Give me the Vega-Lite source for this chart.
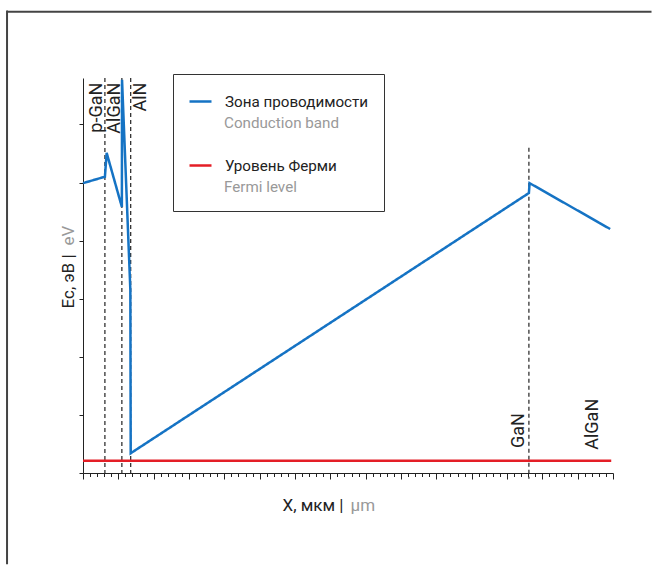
{
  "$schema": "https://vega.github.io/schema/vega-lite/v6.json",
  "width": 530,
  "height": 395,
  "autosize": {"type": "none"},
  "padding": {"left": 83, "top": 78, "right": 39, "bottom": 92},
  "background": "white",
  "config": {"font": "Roboto", "view": {"stroke": null}},
  "datasets": {
    "bands": [
      {"i": 0, "x": 0, "y": 4.99, "ru": "Зона проводимости", "en": "Conduction band"},
      {"i": 1, "x": 0.62, "y": 5.10, "ru": "Зона проводимости", "en": "Conduction band"},
      {"i": 2, "x": 0.67, "y": 5.51, "ru": "Зона проводимости", "en": "Conduction band"},
      {"i": 3, "x": 1.10, "y": 4.58, "ru": "Зона проводимости", "en": "Conduction band"},
      {"i": 4, "x": 1.105, "y": 6.77, "ru": "Зона проводимости", "en": "Conduction band"},
      {"i": 5, "x": 1.34, "y": 3.15, "ru": "Зона проводимости", "en": "Conduction band"},
      {"i": 6, "x": 1.35, "y": 0.34, "ru": "Зона проводимости", "en": "Conduction band"},
      {"i": 7, "x": 12.62, "y": 4.82, "ru": "Зона проводимости", "en": "Conduction band"},
      {"i": 8, "x": 12.64, "y": 4.99, "ru": "Зона проводимости", "en": "Conduction band"},
      {"i": 9, "x": 14.92, "y": 4.20, "ru": "Зона проводимости", "en": "Conduction band"},
      {"i": 0, "x": 0, "y": 0.21, "ru": "Уровень Ферми", "en": "Fermi level"},
      {"i": 1, "x": 14.95, "y": 0.21, "ru": "Уровень Ферми", "en": "Fermi level"}
    ],
    "bounds": [
      {"x": 0.62, "top": 6.8, "bottom": 0},
      {"x": 1.10, "top": 6.8, "bottom": 0},
      {"x": 1.35, "top": 6.8, "bottom": 0},
      {"x": 12.62, "top": 5.6, "bottom": -0.1}
    ],
    "labels": [
      {"x": 0.54, "y": 6.72, "label": "p-GaN", "pos": "top"},
      {"x": 1.05, "y": 6.72, "label": "AlGaN", "pos": "top"},
      {"x": 1.79, "y": 6.72, "label": "AlN", "pos": "top"},
      {"x": 12.47, "y": 0.43, "label": "GaN", "pos": "bottom"},
      {"x": 14.58, "y": 0.40, "label": "AlGaN", "pos": "bottom"}
    ]
  },
  "layer": [
    {
      "data": {"values": [{"frame": "top"}]},
      "mark": {"type": "rule", "stroke": "#444", "strokeWidth": 2, "clip": false},
      "encoding": {
        "x": {"datum": -2.15, "type": "quantitative", "scale": {"domain": [0, 15], "nice": false, "zero": false}, "axis": null},
        "x2": {"datum": 16.09},
        "y": {"datum": 7.94, "type": "quantitative", "scale": {"domain": [0, 6.8], "nice": false, "zero": false}, "axis": null}
      }
    },
    {
      "data": {"values": [{"frame": "left"}]},
      "mark": {"type": "rule", "stroke": "#444", "strokeWidth": 2, "clip": false},
      "encoding": {
        "x": {"datum": -2.15, "type": "quantitative", "scale": {"domain": [0, 15], "nice": false, "zero": false}, "axis": null},
        "y": {"datum": 7.96, "type": "quantitative", "scale": {"domain": [0, 6.8], "nice": false, "zero": false}, "axis": null},
        "y2": {"datum": -1.57}
      }
    },
    {
      "data": {"name": "bounds"},
      "mark": {"type": "rule", "strokeDash": [4, 3], "color": "#222", "strokeWidth": 1.2, "clip": false},
      "encoding": {
        "x": {"field": "x", "type": "quantitative", "scale": {"domain": [0, 15], "nice": false, "zero": false},
          "axis": {"orient": "bottom", "title": "µm", "titleColor": "#999", "ticks": false, "labels": false, "domain": false, "grid": false,
            "titleX": 267, "titleY": 37, "titleAlign": "left", "titleBaseline": "alphabetic", "titleFontWeight": "normal", "titleFontSize": 17, "titleFont": "Roboto"}},
        "y": {"field": "top", "type": "quantitative", "scale": {"domain": [0, 6.8], "nice": false, "zero": false},
          "axis": {"orient": "left", "title": "eV", "titleColor": "#999", "ticks": false, "labels": false, "domain": false, "grid": false,
            "titleX": -10, "titleY": 167, "titleAlign": "left", "titleAngle": 270, "titleBaseline": "alphabetic", "titleFontWeight": "normal", "titleFontSize": 17, "titleFont": "Roboto"}},
        "y2": {"field": "bottom"}
      }
    },
    {
      "data": {"name": "bands"},
      "mark": {"type": "line", "strokeWidth": 2.5, "clip": false},
      "encoding": {
        "x": {"field": "x", "type": "quantitative", "scale": {"domain": [0, 15], "nice": false, "zero": false},
          "axis": {"orient": "bottom", "title": "X, мкм |", "titleColor": "#222", "labels": false, "grid": false,
            "values": [0,0.2,0.4,0.6,0.8,1,1.2,1.4,1.6,1.8,2,2.2,2.4,2.6,2.8,3,3.2,3.4,3.6,3.8,4,4.2,4.4,4.6,4.8,5,5.2,5.4,5.6,5.8,6,6.2,6.4,6.6,6.8,7,7.2,7.4,7.6,7.8,8,8.2,8.4,8.6,8.8,9,9.2,9.4,9.6,9.8,10,10.2,10.4,10.6,10.8,11,11.2,11.4,11.6,11.8,12,12.2,12.4,12.6,12.8,13,13.2,13.4,13.6,13.8,14,14.2,14.4,14.6,14.8,15],
            "tickSize": {"condition": {"test": "datum.value % 1 === 0", "value": 6}, "value": 3.5},
            "tickColor": "#222", "domainColor": "#222", "tickWidth": 1, "domainWidth": 1,
            "titleX": 199, "titleY": 37, "titleAlign": "left", "titleBaseline": "alphabetic", "titleFontWeight": "normal", "titleFontSize": 17, "titleFont": "Roboto"}},
        "y": {"field": "y", "type": "quantitative", "scale": {"domain": [0, 6.8], "nice": false, "zero": false},
          "axis": {"orient": "left", "title": "Ec, эВ |", "titleColor": "#222", "labels": false, "grid": false, "values": [0,1,2,3,4,5,6],
            "tickSize": 4, "tickColor": "#222", "domainColor": "#222", "domainWidth": 1,
            "titleX": -10, "titleY": 230, "titleAlign": "left", "titleAngle": 270, "titleBaseline": "alphabetic", "titleFontWeight": "normal", "titleFontSize": 17, "titleFont": "Roboto"}},
        "order": {"field": "i", "type": "quantitative"},
        "color": {"field": "ru", "type": "nominal",
          "scale": {"domain": ["Зона проводимости", "Уровень Ферми"], "range": ["#1573c4", "#e41e26"]},
          "legend": {"orient": "none", "legendX": 90, "legendY": -4, "title": " ", "titleOrient": "bottom", "titleFontSize": 16, "titlePadding": 6,
            "symbolType": "stroke", "symbolSize": 484, "symbolStrokeWidth": 2.5, "labelFont": "Roboto", "labelFontSize": 15.2, "labelColor": "#222",
            "labelOffset": 12, "rowPadding": 43, "padding": 15, "strokeColor": "#333", "labelLimit": 300}},
        "strokeDash": {"field": "en", "type": "nominal",
          "scale": {"domain": ["Conduction band", "Fermi level"], "range": [[1, 0], [1, 0]]},
          "legend": {"orient": "none", "legendX": 90, "legendY": 18, "title": null,
            "symbolType": "stroke", "symbolSize": 484, "symbolOpacity": 0, "labelFont": "Roboto", "labelFontSize": 15.2, "labelColor": "#999",
            "labelOffset": 12, "rowPadding": 43, "padding": 15, "labelLimit": 300}}
      }
    },
    {
      "data": {"name": "labels"},
      "transform": [{"filter": "datum.pos === 'top'"}],
      "mark": {"type": "text", "angle": 270, "align": "right", "baseline": "alphabetic", "fontSize": 18, "color": "#222", "font": "Roboto", "clip": false},
      "encoding": {
        "x": {"field": "x", "type": "quantitative", "scale": {"domain": [0, 15], "nice": false, "zero": false}, "axis": null},
        "y": {"field": "y", "type": "quantitative", "scale": {"domain": [0, 6.8], "nice": false, "zero": false}, "axis": null},
        "text": {"field": "label"}
      }
    },
    {
      "data": {"name": "labels"},
      "transform": [{"filter": "datum.pos === 'bottom'"}],
      "mark": {"type": "text", "angle": 270, "align": "left", "baseline": "alphabetic", "fontSize": 18, "color": "#222", "font": "Roboto", "clip": false},
      "encoding": {
        "x": {"field": "x", "type": "quantitative", "scale": {"domain": [0, 15], "nice": false, "zero": false}, "axis": null},
        "y": {"field": "y", "type": "quantitative", "scale": {"domain": [0, 6.8], "nice": false, "zero": false}, "axis": null},
        "text": {"field": "label"}
      }
    }
  ],
  "resolve": {"axis": {"x": "independent", "y": "independent"}}
}
